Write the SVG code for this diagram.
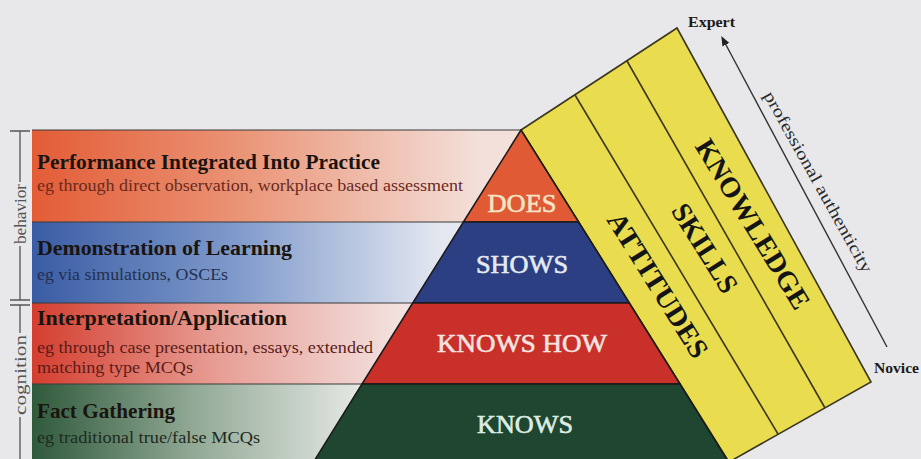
<svg xmlns="http://www.w3.org/2000/svg" width="921" height="459" viewBox="0 0 921 459">
  <defs>
    <linearGradient id="g1" gradientUnits="userSpaceOnUse" x1="32" y1="0" x2="480" y2="0">
      <stop offset="0" stop-color="#e35c36"/>
      <stop offset="0.45" stop-color="#ea9274"/>
      <stop offset="1" stop-color="#f3e0da"/>
    </linearGradient>
    <linearGradient id="g2" gradientUnits="userSpaceOnUse" x1="32" y1="0" x2="440" y2="0">
      <stop offset="0" stop-color="#3a5ca4"/>
      <stop offset="0.5" stop-color="#7f9acb"/>
      <stop offset="1" stop-color="#e4e7f0"/>
    </linearGradient>
    <linearGradient id="g3" gradientUnits="userSpaceOnUse" x1="32" y1="0" x2="400" y2="0">
      <stop offset="0" stop-color="#d43e2f"/>
      <stop offset="0.5" stop-color="#e79d94"/>
      <stop offset="1" stop-color="#f3e2e0"/>
    </linearGradient>
    <linearGradient id="g4" gradientUnits="userSpaceOnUse" x1="32" y1="0" x2="360" y2="0">
      <stop offset="0" stop-color="#2f5a3b"/>
      <stop offset="0.5" stop-color="#93aa97"/>
      <stop offset="1" stop-color="#e5e8e4"/>
    </linearGradient>
    <marker id="arrowhead" viewBox="0 0 10 10" refX="2" refY="5" markerWidth="7" markerHeight="7" orient="auto-start-reverse">
      <path d="M0,1 L10,5 L0,9 Z" fill="#222"/>
    </marker>
  </defs>
  <style>
    .title { font-family: "Liberation Serif", serif; font-weight: bold; font-size: 21px; fill: #1a1410; }
    .sub { font-family: "Liberation Serif", serif; font-size: 16px; }
    .pyr { font-family: "Liberation Serif", serif; font-size: 26px; text-anchor: middle; stroke-width: 0.6; }
    .band { font-family: "Liberation Serif", serif; font-weight: bold; font-size: 28px; fill: #141414; text-anchor: middle; dominant-baseline: central; }
    .side { font-family: "Liberation Serif", serif; font-size: 17px; fill: #555; text-anchor: middle; dominant-baseline: central; }
    .small { font-family: "Liberation Serif", serif; font-weight: bold; font-size: 15px; fill: #1a1a1a; }
    .divider { stroke: #3a3a3a; stroke-width: 1.2; fill: none; }
    .edge { stroke: #1a1a1a; stroke-width: 1.5; stroke-linejoin: round; }
    .yl { stroke: #3b3620; stroke-width: 1.6; fill: none; }
    .brk { stroke: #555; stroke-width: 1.3; fill: none; }
  </style>

  <rect x="0" y="0" width="921" height="459" fill="#e8e8ea"/>

  <!-- left bracket -->
  <g id="bracket-behavior">
    <path class="brk" d="M10,131 H30 M20,131 V182 M20,246 V300 M10,300 H30"/>
    <text class="side" transform="translate(20,214) rotate(-90)" textLength="60" lengthAdjust="spacingAndGlyphs">behavior</text>
  </g>
  <g id="bracket-cognition">
    <path class="brk" d="M10,305 H30 M20,305 V333 M20,417 V459"/>
    <text class="side" transform="translate(20,375) rotate(-90)" textLength="80" lengthAdjust="spacingAndGlyphs">cognition</text>
  </g>

  <!-- left bands -->
  <g id="band-performance">
    <rect x="32" y="130" width="490" height="92" fill="url(#g1)"/>
    <text class="title" x="37" y="169" textLength="343" lengthAdjust="spacingAndGlyphs">Performance Integrated Into Practice</text>
    <text class="sub" x="37" y="191" fill="#6a2a1e" textLength="426" lengthAdjust="spacingAndGlyphs">eg through direct observation, workplace based assessment</text>
  </g>
  <g id="band-demonstration">
    <rect x="32" y="222" width="440" height="81" fill="url(#g2)"/>
    <text class="title" x="37" y="255" textLength="255" lengthAdjust="spacingAndGlyphs">Demonstration of Learning</text>
    <text class="sub" x="37" y="280" fill="#22304e" textLength="191" lengthAdjust="spacingAndGlyphs">eg via simulations, OSCEs</text>
  </g>
  <g id="band-interpretation">
    <rect x="32" y="303" width="390" height="81" fill="url(#g3)"/>
    <text class="title" x="37" y="325" textLength="250" lengthAdjust="spacingAndGlyphs">Interpretation/Application</text>
    <text class="sub" x="37" y="353" fill="#5a1c18" textLength="336" lengthAdjust="spacingAndGlyphs">eg through case presentation, essays, extended</text>
    <text class="sub" x="37" y="373" fill="#5a1c18" textLength="156" lengthAdjust="spacingAndGlyphs">matching type MCQs</text>
  </g>
  <g id="band-fact">
    <rect x="32" y="384" width="340" height="80" fill="url(#g4)"/>
    <text class="title" x="37" y="418" textLength="138" lengthAdjust="spacingAndGlyphs">Fact Gathering</text>
    <text class="sub" x="37" y="443" fill="#1e2a20" textLength="223" lengthAdjust="spacingAndGlyphs">eg traditional true/false MCQs</text>
  </g>
  <g id="band-dividers">
    <path class="divider" d="M32,130 H521 M32,222 H464 M32,303 H413 M32,384 H362"/>
  </g>

  <!-- yellow band: attitudes / skills / knowledge -->
  <g id="competence-band">
    <polygon points="521,130 677,28 871,382 729,462" fill="#e9dd4f"/>
    <polygon class="yl" points="521,130 677,28 871,382 729,462"/>
    <line class="yl" x1="575" y1="95" x2="778" y2="434"/>
    <line class="yl" x1="627" y1="61" x2="825" y2="408"/>
  </g>
  <g id="node-knowledge">
    <text class="band" transform="translate(753,224) rotate(58.5)" textLength="194" lengthAdjust="spacingAndGlyphs">KNOWLEDGE</text>
  </g>
  <g id="node-skills">
    <text class="band" transform="translate(705,248) rotate(58)" textLength="100" lengthAdjust="spacingAndGlyphs">SKILLS</text>
  </g>
  <g id="node-attitudes">
    <text class="band" transform="translate(658,285) rotate(58)" textLength="166" lengthAdjust="spacingAndGlyphs">ATTITUDES</text>
  </g>

  <!-- pyramid -->
  <g id="node-does">
    <polygon class="edge" points="521,130 578.6,222 463.4,222" fill="#e05a36"/>
    <text class="pyr" x="522" y="212" fill="#f4e4c6" stroke="#f4e4c6" textLength="69" lengthAdjust="spacingAndGlyphs">DOES</text>
  </g>
  <g id="node-shows">
    <polygon class="edge" points="463.4,222 578.6,222 629.3,303 412.7,303" fill="#2b3f82"/>
    <text class="pyr" x="522" y="273" fill="#e6eaf0" stroke="#e6eaf0" textLength="92" lengthAdjust="spacingAndGlyphs">SHOWS</text>
  </g>
  <g id="node-knows-how">
    <polygon class="edge" points="412.7,303 629.3,303 680,384 362,384" fill="#c9302a"/>
    <text class="pyr" x="522" y="352" fill="#f3e4e0" stroke="#f3e4e0" textLength="170" lengthAdjust="spacingAndGlyphs">KNOWS HOW</text>
  </g>
  <g id="node-knows">
    <polygon class="edge" points="362,384 680,384 731,466 311,466" fill="#1f4630"/>
    <text class="pyr" x="525" y="433" fill="#dfece2" stroke="#dfece2" textLength="96" lengthAdjust="spacingAndGlyphs">KNOWS</text>
  </g>

  <!-- axis -->
  <g id="connectors">
    <line x1="725" y1="43" x2="887" y2="347" stroke="#333" stroke-width="1.4" marker-start="url(#arrowhead)"/>
  </g>
  <g id="label-expert">
    <text class="small" x="688" y="27" textLength="47" lengthAdjust="spacingAndGlyphs">Expert</text>
  </g>
  <g id="label-novice">
    <text class="small" x="874" y="373" textLength="45" lengthAdjust="spacingAndGlyphs">Novice</text>
  </g>
  <g id="label-authenticity">
    <text transform="translate(818,182) rotate(60.8)" font-family="Liberation Serif, serif" font-size="17" fill="#2a2a2a" text-anchor="middle" dominant-baseline="central" textLength="205" lengthAdjust="spacingAndGlyphs">professional authenticity</text>
  </g>
</svg>
